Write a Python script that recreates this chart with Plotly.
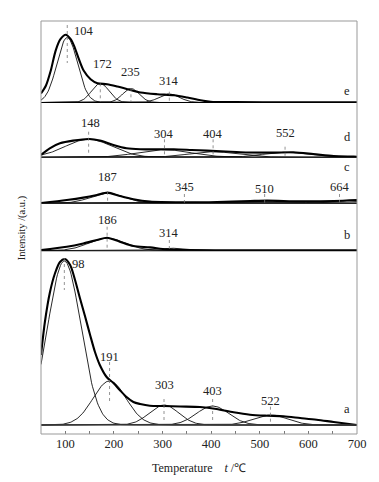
import numpy as np
import plotly.graph_objects as go

# ---------------- data ----------------
# Fitted Gaussian components for each sample: centre (deg C), height, sigma (deg C)
peak_a = [98, 191, 303, 403, 522]
height_a = [164, 44, 20, 19, 10]
sigma_a = [34, 34, 30, 33, 35]

peak_b = [186, 314]
height_b = [12.5, 2.5]
sigma_b = [38, 35]

peak_c = [187, 345, 510, 664]
height_c = [10, 1.0, 2.3, 2.5]
sigma_c = [35, 45, 55, 45]

peak_d = [148, 304, 404, 552]
height_d = [18, 7.5, 5.5, 5]
sigma_d = [48, 55, 50, 45]

peak_e = [104, 172, 235, 314]
height_e = [65, 19, 14, 8.5]
sigma_e = [21, 18, 17, 21]

# Measured profiles (bold curves)
temp_a = [50, 58, 68.5, 79, 89, 99, 110, 120, 130, 141, 151, 161, 171, 185, 199, 212, 226,
          240, 254, 274, 302, 336, 377, 411, 446, 480, 515, 549, 583, 617, 652, 700]
signal_a = [70, 103, 133, 152, 163, 166, 160, 145, 127, 108, 90, 73, 60, 48, 42, 35, 28,
            23, 21, 19.3, 19, 18.5, 18, 16, 12.7, 10.3, 9.3, 8.7, 7, 5.3, 3, 0]

temp_b = [50, 103, 137, 165, 186, 212, 240, 274, 308, 343, 450, 700]
signal_b = [0.7, 4, 7.3, 10.7, 13, 9, 4.7, 3.3, 1.3, 0.7, 0.4, 0.3]

temp_c = [50, 103, 137, 165, 187, 212, 240, 274, 343, 412, 480, 515, 583, 652, 700]
signal_c = [0.3, 3.3, 5.7, 8.3, 10.7, 7.3, 4, 1.7, 1, 1.3, 2.3, 2.7, 2, 2.3, 3.3]

temp_d = [50, 68, 89, 116, 150, 171, 199, 226, 254, 290, 323, 360, 391, 430, 460, 528,
          569, 610, 652, 693, 700]
signal_d = [2.4, 9, 14, 16.7, 18.3, 16.7, 12.3, 9, 8, 8, 8, 7.3, 6.7, 5.8, 5, 4.7,
            5, 3.3, 1.3, 0.7, 0.5]

temp_e = [50, 60, 70, 80, 90, 101, 111, 118, 128, 138, 152, 166, 186, 207, 228, 255, 289,
          324, 351, 378, 399, 450, 550, 700]
signal_e = [9, 16.7, 31.7, 51.7, 63.3, 67.7, 63.3, 56.7, 43.3, 31.7, 23.3, 19.3, 18.3, 16,
            13.3, 10, 8.3, 7.3, 5, 2.3, 0.7, 0.4, 0.3, 0.2]

sample_names = ["a", "b", "c", "d", "e"]
x_ticks = [100, 200, 300, 400, 500, 600, 700]

# ---------------- layout / style ----------------
FONT = "Liberation Serif"
PAGE = 8  # default body margin of the html page
W, H = 379 - PAGE, 482 - PAGE
plot_w, plot_h = 316, 413
ML, MT = 41 - PAGE, 21 - PAGE
MR = W - ML - plot_w
MB = H - MT - plot_h
bottom_px = 434  # window pixel of the x axis

# panel edges in window pixels (top, bottom)
edges_px = {"e": (21, 102.5), "d": (102.5, 157.3), "c": (157.3, 203.3),
            "b": (203.3, 250.7), "a": (250.7, 434)}
baseline_a_px = 425

def frac(ypx):
    return (bottom_px - ypx) / plot_h

axis_names = {"a": "y", "b": "y2", "c": "y3", "d": "y4", "e": "y5"}

# label positions (panel units above the baseline) and dotted marker line extents
label_style = {
    "a": dict(ly=[161, 68.3, 40, 34.3, 24.3], l0=[167, 63, 26, 26, 18.3], l1=[135, 22.3, 5, 3.3, 0],
              dx=[4, 0, 0, 0, 0], letter_y=16),
    "b": dict(ly=[30.7, 18], l0=[24, 10.7], l1=[0, -4.3], dx=[0, 0], letter_y=15.7),
    "c": dict(ly=[26, 16.6, 14.3, 16], l0=[11.6, 9.3, 9.3, 9.3], l1=[-1.7, -7.4, -7.4, -7.4],
              dx=[0, 0, 0, 0], letter_y=36.6),
    "d": dict(ly=[34, 23, 23, 24], l0=[25.6, 18, 18, 10.6], l1=[2.3, 0, 0, -4.4],
              dx=[2, 0, 0, 0], letter_y=20.6),
    "e": dict(ly=[71.5, 38.2, 30.2, 21.5], l0=[77.5, 19.2, 14.2, 10.8], l1=[39.5, 0, 0, -1],
              dx=[3, 2, 0, 0], letter_y=12),
}

data = {
    "a": (peak_a, height_a, sigma_a, temp_a, signal_a),
    "b": (peak_b, height_b, sigma_b, temp_b, signal_b),
    "c": (peak_c, height_c, sigma_c, temp_c, signal_c),
    "d": (peak_d, height_d, sigma_d, temp_d, signal_d),
    "e": (peak_e, height_e, sigma_e, temp_e, signal_e),
}

fig = go.Figure()
grid = np.arange(50, 701, 2.0)
shapes = []
annotations = []
txt_font = dict(family=FONT, size=12.5, color="#222")

for name in sample_names:
    peaks, heights, sigmas, temps, sig = data[name]
    yax = axis_names[name]
    for c, h, s in zip(peaks, heights, sigmas):
        comp = h * np.exp(-((grid - c) ** 2) / (2 * s ** 2))
        fig.add_trace(go.Scatter(x=grid, y=comp, mode="lines", xaxis="x", yaxis=yax,
                                 line=dict(color="#111", width=0.9), hoverinfo="skip",
                                 showlegend=False))
    fig.add_trace(go.Scatter(x=temps, y=sig, mode="lines", xaxis="x", yaxis=yax,
                             line=dict(color="#000", width=2.1, shape="spline", smoothing=0.8),
                             showlegend=False))
    st = label_style[name]
    for i, c in enumerate(peaks):
        shapes.append(dict(type="line", xref="x", yref=yax, x0=c, x1=c,
                           y0=st["l0"][i], y1=st["l1"][i],
                           line=dict(color="#777", width=0.8, dash="dot")))
        left = (name in ("a", "e")) and i == 0
        annotations.append(dict(x=c, y=st["ly"][i], xref="x", yref=yax, text=str(c),
                                showarrow=False, xanchor="left" if left else "center",
                                yanchor="middle",
                                xshift=st["dx"][i] + (2 if left else 0),
                                font=txt_font))
    annotations.append(dict(x=680, y=st["letter_y"], xref="x", yref=yax, text=name,
                            showarrow=False, xanchor="center", yanchor="middle",
                            font=txt_font))

# separators between panels
for name in ["e", "d", "c", "b"]:
    yb = frac(edges_px[name][1])
    shapes.append(dict(type="line", xref="paper", yref="paper", x0=0, x1=1, y0=yb, y1=yb,
                       line=dict(color="#000", width=1.1)))
# baseline of panel a
shapes.append(dict(type="line", xref="paper", yref="y", x0=0, x1=1, y0=0, y1=0,
                   line=dict(color="#555", width=1)))
# frame
shapes.append(dict(type="rect", xref="paper", yref="paper", x0=0, x1=1, y0=0, y1=1,
                   line=dict(color="#999", width=1)))

annotations.append(dict(x=-0.061, y=0.5, xref="paper", yref="paper", text="Intensity /(a.u.)",
                        textangle=-90, showarrow=False, xanchor="center", yanchor="middle",
                        font=dict(family=FONT, size=10.5, color="#222")))
annotations.append(dict(x=0.5, y=frac(468), xref="paper", yref="paper",
                        text="Temperature\u00a0\u00a0\u00a0\u00a0<i>t</i> /℃",
                        showarrow=False, xanchor="center", yanchor="middle",
                        font=dict(family=FONT, size=12, color="#222")))

layout = dict(
    width=W, height=H,
    margin=dict(l=ML, r=MR, t=MT, b=MB),
    paper_bgcolor="white", plot_bgcolor="white",
    showlegend=False,
    shapes=shapes, annotations=annotations,
    xaxis=dict(range=[50, 700], tickvals=x_ticks, ticks="inside", ticklen=3,
               tickcolor="#777", showgrid=False, zeroline=False, showline=False,
               anchor="y", tickfont=dict(family=FONT, size=12.5, color="#222"),
               minor=dict(ticks="inside", dtick=50, tick0=0, ticklen=3, tickcolor="#777",
                          showgrid=False)),
)

for name in sample_names:
    top, bot = edges_px[name]
    key = "yaxis" if axis_names[name] == "y" else "yaxis" + axis_names[name][1:]
    if name == "a":
        rng = [-(bottom_px - baseline_a_px), baseline_a_px - top]
    else:
        rng = [0, bot - top]
    layout[key] = dict(domain=[frac(bot), frac(top)], range=rng, anchor="x",
                       showgrid=False, zeroline=False, showline=False,
                       showticklabels=False, ticks="", fixedrange=True)

fig.update_layout(**layout)
fig.write_html("out.html")
